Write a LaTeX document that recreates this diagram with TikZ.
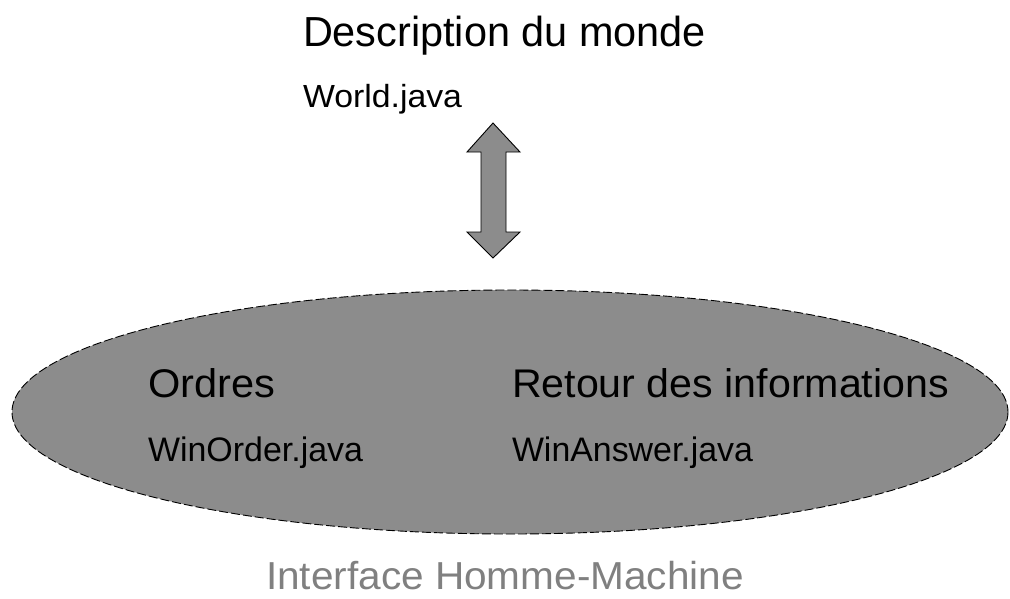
\documentclass[tikz,border=0pt]{standalone}
\usepackage{fontspec}
\usepackage{graphicx}
\setmainfont{Liberation Sans}
\definecolor{fillgray}{RGB}{140,140,140}
\definecolor{labelgray}{RGB}{128,128,128}
% text of a given size, stretched to a given width
\newcommand{\wtext}[3]{\resizebox{#1pt}{\height}{\fontsize{#2}{#2}\selectfont #3}}
\tikzset{
  lbl/.style={anchor=base west, inner sep=0pt, outer sep=0pt},
  blob/.style={fill=fillgray, draw=black, line width=0.9pt, dash pattern=on 9pt off 3pt},
  blockarrow/.style={fill=fillgray, draw=black, line width=0.9pt, line join=miter}
}
\begin{document}
\begin{tikzpicture}[x=1pt,y=-1pt]
\useasboundingbox (0,0) rectangle (1010,598);

% interface ellipse
\draw[blob] (510,412) ellipse [x radius=498, y radius=122];

% double block arrow between world and interface
\coordinate (top) at (493,123);
\coordinate (bot) at (493,258);
\draw[blockarrow] (top) -- (520,152) -- (506,152) -- (506,232) -- (520,232)
  -- (bot) -- (467,232) -- (481,232) -- (481,152) -- (467,152) -- cycle;

% labels
\node[lbl] (desc) at (303,46) {\wtext{403}{42}{Description du monde}};
\node[lbl] (world) at (303,107) {\wtext{159}{32}{World.java}};
\node[lbl] (ordres) at (148,397) {\wtext{127}{40}{Ordres}};
\node[lbl] (winorder) at (148,461) {\wtext{215}{34}{WinOrder.java}};
\node[lbl] (retour) at (512,397) {\wtext{437}{40}{Retour des informations}};
\node[lbl] (winanswer) at (512,461) {\wtext{241}{34}{WinAnswer.java}};
\node[lbl, text=labelgray] (ihm) at (266,589) {\wtext{478}{39}{Interface Homme-Machine}};
\end{tikzpicture}
\end{document}
